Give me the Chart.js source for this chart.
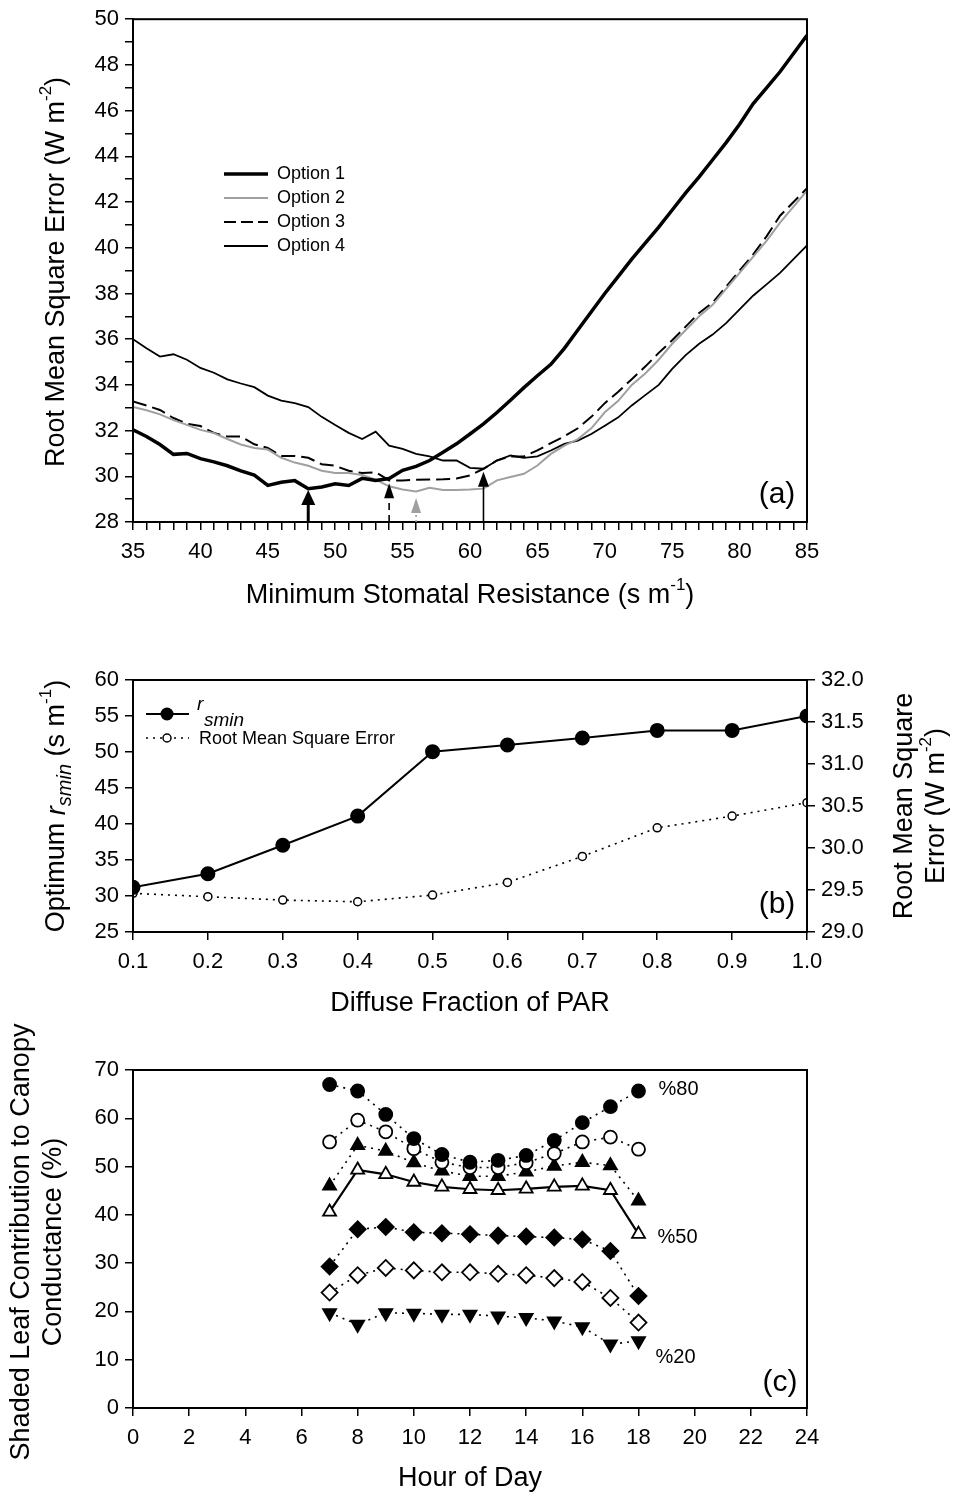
<!DOCTYPE html>
<html>
<head>
<meta charset="utf-8">
<script src="https://cdn.jsdelivr.net/npm/chart.js@4.4.1/dist/chart.umd.min.js"></script>
<style>
  html, body { margin: 0; padding: 0; background: #fff; }
  #page { position: relative; width: 964px; height: 1498px; }
  .panel { position: absolute; left: 0; width: 964px; }
</style>
</head>
<body>
<div id="page">
  <div class="panel" style="top:0;height:620px"><canvas id="chartA"></canvas></div>
  <div class="panel" style="top:640px;height:380px"><canvas id="chartB"></canvas></div>
  <div class="panel" style="top:1020px;height:478px"><canvas id="chartC"></canvas></div>
</div>
<script>
// ---- panel (a): RMSE vs minimum stomatal resistance
const aX = [35, 36, 37, 38, 39, 40, 41, 42, 43, 44, 45, 46, 47, 48, 49, 50, 51, 52, 53, 54,
  55, 56, 57, 58, 59, 60, 61, 62, 63, 64, 65, 66, 67, 68, 69, 70, 71, 72, 73, 74,
  75, 76, 77, 78, 79, 80, 81, 82, 83, 84, 85];
const opt1 = [32.03, 31.74, 31.39, 30.96, 31.0, 30.77, 30.63, 30.46, 30.24, 30.05,
  29.6, 29.74, 29.81, 29.46, 29.53, 29.67, 29.6, 29.91, 29.82, 29.9,
  30.26, 30.43, 30.69, 31.05, 31.42, 31.85, 32.29, 32.79, 33.33, 33.88,
  34.4, 34.9, 35.6, 36.4, 37.2, 38.0, 38.75, 39.5, 40.2, 40.9,
  41.65, 42.4, 43.1, 43.85, 44.6, 45.4, 46.3, 47.0, 47.7, 48.5, 49.3];
const opt2 = [33.03, 32.89, 32.71, 32.46, 32.25, 32.03, 31.89, 31.63, 31.39, 31.24,
  31.17, 30.81, 30.6, 30.46, 30.24, 30.14, 30.14, 30.06, 29.85, 29.56,
  29.42, 29.34, 29.5, 29.4, 29.4, 29.42, 29.46, 29.82, 29.97, 30.11,
  30.47, 30.98, 31.34, 31.63, 32.1, 32.8, 33.3, 34.0, 34.5, 35.1,
  35.8, 36.4, 37.0, 37.5, 38.2, 38.9, 39.6, 40.3, 41.1, 41.8, 42.5];
const opt3 = [33.27, 33.1, 32.9, 32.55, 32.3, 32.2, 31.9, 31.74, 31.74, 31.4,
  31.24, 30.89, 30.89, 30.81, 30.53, 30.46, 30.24, 30.14, 30.18, 29.82,
  29.82, 29.85, 29.86, 29.87, 29.9, 30.04, 30.33, 30.69, 30.87, 30.87,
  31.13, 31.45, 31.75, 32.1, 32.6, 33.2, 33.7, 34.25, 34.8, 35.4,
  35.95, 36.55, 37.15, 37.6, 38.3, 39.0, 39.7, 40.5, 41.4, 42.0, 42.6];
const opt4 = [36.0, 35.6, 35.24, 35.34, 35.1, 34.74, 34.53, 34.24, 34.06, 33.9,
  33.53, 33.31, 33.2, 33.03, 32.6, 32.24, 31.9, 31.63, 31.95, 31.34,
  31.2, 30.98, 30.87, 30.69, 30.69, 30.37, 30.33, 30.69, 30.91, 30.81,
  30.87, 31.13, 31.42, 31.56, 31.85, 32.21, 32.58, 33.1, 33.55, 34.0,
  34.7, 35.3, 35.8, 36.2, 36.7, 37.3, 37.9, 38.4, 38.9, 39.5, 40.1];
const optNames = ["Option 1", "Option 2", "Option 3", "Option 4"];
// arrows marking each option's minimum
const arrowX = [48, 54, 56, 61];
const arrowTip = [29.4, 29.7, 29.05, 30.2];

// ---- panel (b): optimum rsmin vs diffuse fraction
const bFrac = [0.1, 0.2, 0.3, 0.4, 0.5, 0.6, 0.7, 0.8, 0.9, 1.0];
const bRsmin = [31.2, 33.1, 37.05, 41.1, 50.05, 50.97, 51.94, 53.0, 53.0, 55.0];
const bRmse = [29.46, 29.42, 29.38, 29.36, 29.44, 29.59, 29.9, 30.24, 30.38, 30.54];

// ---- panel (c): shaded leaf contribution by hour
const cHour = [7, 8, 9, 10, 11, 12, 13, 14, 15, 16, 17, 18];
const c80 = [67.0, 65.65, 60.8, 55.8, 52.5, 50.9, 51.3, 52.3, 55.4, 59.1, 62.4, 65.65];
const c70 = [55.1, 59.6, 57.2, 53.7, 50.9, 49.8, 49.8, 50.8, 52.7, 55.1, 56.1, 53.6];
const c60 = [46.0, 54.4, 53.2, 50.8, 49.1, 48.0, 48.0, 48.9, 50.1, 50.9, 50.2, 42.9];
const c50 = [40.6, 49.3, 48.4, 46.8, 45.8, 45.3, 45.1, 45.4, 45.8, 46.0, 45.1, 36.0];
const c40 = [29.3, 37.0, 37.5, 36.4, 36.2, 36.0, 35.7, 35.5, 35.3, 34.9, 32.5, 23.2];
const c30 = [23.9, 27.5, 29.0, 28.5, 28.1, 28.1, 27.8, 27.5, 26.9, 26.1, 22.8, 17.7];
const c20 = [19.7, 17.3, 19.7, 19.6, 19.4, 19.4, 19.0, 18.7, 18.0, 16.8, 13.2, 13.9];
const cTags = ["%80", "%50", "%20"];

const FAM = '"Liberation Sans", Arial, Helvetica, sans-serif';
const f = (s, it) => (it ? "italic " : "") + s + "px " + FAM;
const pts = (xs, ys) => xs.map((x, i) => ({ x, y: ys[i] }));
const TICK = 22, TITLE = 27, SUP = 17;

// draw a run of text pieces (for superscripts / subscripts) centred on cx,cy
function drawRich(ctx, parts, cx, cy, rot) {
  ctx.save();
  ctx.translate(cx, cy);
  ctx.rotate(rot || 0);
  ctx.fillStyle = "#000";
  ctx.textAlign = "left";
  ctx.textBaseline = "middle";
  let total = 0;
  parts.forEach(p => { ctx.font = p.font; p.w = ctx.measureText(p.t).width; total += p.w; });
  let x = -total / 2;
  parts.forEach(p => { ctx.font = p.font; ctx.fillText(p.t, x, p.dy || 0); x += p.w; });
  ctx.restore();
}

function frameBox(chart) {
  const { ctx, chartArea: a } = chart;
  ctx.save();
  ctx.strokeStyle = "#000";
  ctx.lineWidth = 2;
  ctx.strokeRect(a.left, a.top, a.right - a.left, a.bottom - a.top);
  ctx.restore();
}

function axisX(min, max, step, labelFn, h) {
  return {
    type: "linear", min, max,
    afterFit: s => { s.height = h; },
    border: { display: true, color: "#000", width: 2 },
    grid: { drawOnChartArea: false, drawTicks: true, tickLength: 8, color: "#000", lineWidth: 1.5 },
    ticks: { stepSize: step, autoSkip: false, maxRotation: 0, color: "#000", padding: 9,
      font: { size: TICK, family: FAM }, callback: labelFn }
  };
}
function axisY(min, max, step, labelFn, w, pos) {
  return {
    type: "linear", min, max, position: pos || "left",
    afterFit: s => { s.width = w; },
    border: { display: true, color: "#000", width: 2 },
    grid: { drawOnChartArea: false, drawTicks: true, tickLength: 8, color: "#000", lineWidth: 1.5 },
    ticks: { stepSize: step, autoSkip: false, color: "#000", padding: 6,
      font: { size: TICK, family: FAM }, callback: labelFn }
  };
}
const baseOpts = {
  responsive: true, maintainAspectRatio: false, animation: false,
  plugins: { legend: { display: false }, tooltip: { enabled: false } }
};

// ---------- chart (a)
const aStyles = [
  { color: "#000", width: 3.5, dash: [] },
  { color: "#a0a0a0", width: 2, dash: [] },
  { color: "#000", width: 2, dash: [14, 6] },
  { color: "#000", width: 1.8, dash: [] }
];
const arrowStyles = [
  { color: "#000", width: 3, dash: [], head: 7 },
  { color: "#000", width: 1.6, dash: [7, 5], head: 5 },
  { color: "#a0a0a0", width: 1.6, dash: [2, 3], head: 5 },
  { color: "#000", width: 1.6, dash: [], head: 5.5 }
];

new Chart(document.getElementById("chartA"), {
  type: "line",
  data: {
    datasets: [opt1, opt2, opt3, opt4].map((d, i) => ({
      label: optNames[i], data: pts(aX, d),
      borderColor: aStyles[i].color, borderWidth: aStyles[i].width, borderDash: aStyles[i].dash,
      pointRadius: 0, tension: 0, fill: false
    }))
  },
  options: {
    ...baseOpts,
    layout: { padding: { left: 0, top: 16, right: 157, bottom: 0 } },
    scales: {
      x: axisX(35, 85, 1, v => (v % 5 === 0 ? v : ""), 98),
      y: axisY(28, 50, 1, v => (v % 2 === 0 ? v : ""), 133)
    }
  },
  plugins: [{
    id: "decorA",
    afterDraw(chart) {
      const { ctx, chartArea: a, scales: { x, y } } = chart;
      frameBox(chart);
      // arrows
      arrowX.forEach((v, i) => {
        const st = arrowStyles[i];
        const px = x.getPixelForValue(v), tip = y.getPixelForValue(arrowTip[i]);
        const hl = 15;
        ctx.save();
        ctx.strokeStyle = st.color; ctx.fillStyle = st.color;
        ctx.lineWidth = st.width; ctx.setLineDash(st.dash);
        ctx.beginPath(); ctx.moveTo(px, a.bottom); ctx.lineTo(px, tip + hl - 2); ctx.stroke();
        ctx.setLineDash([]);
        ctx.beginPath(); ctx.moveTo(px, tip); ctx.lineTo(px - st.head, tip + hl); ctx.lineTo(px + st.head, tip + hl);
        ctx.closePath(); ctx.fill();
        ctx.restore();
      });
      // legend
      optNames.forEach((n, i) => {
        const ly = 174 + i * 24;
        ctx.save();
        ctx.strokeStyle = aStyles[i].color; ctx.lineWidth = aStyles[i].width;
        ctx.setLineDash(aStyles[i].dash.length ? [12, 5] : []);
        ctx.beginPath(); ctx.moveTo(224, ly); ctx.lineTo(268, ly); ctx.stroke();
        ctx.fillStyle = "#000"; ctx.font = f(18); ctx.textBaseline = "middle"; ctx.textAlign = "left";
        ctx.fillText(n, 277, ly);
        ctx.restore();
      });
      drawRich(ctx, [{ t: "(a)", font: f(30) }], a.right - 30, a.bottom - 27);
      drawRich(ctx, [
        { t: "Root Mean Square Error (W m", font: f(TITLE) },
        { t: "-2", font: f(SUP), dy: -11 },
        { t: ")", font: f(TITLE) }
      ], 57, 272, -Math.PI / 2);
      drawRich(ctx, [
        { t: "Minimum Stomatal Resistance (s m", font: f(TITLE) },
        { t: "-1", font: f(SUP), dy: -11 },
        { t: ")", font: f(TITLE) }
      ], (a.left + a.right) / 2, 596);
    }
  }]
});

// ---------- chart (b)
new Chart(document.getElementById("chartB"), {
  type: "line",
  data: {
    datasets: [
      { label: "rsmin", data: pts(bFrac, bRsmin), yAxisID: "y",
        borderColor: "#000", borderWidth: 2, pointRadius: 6.5, pointBackgroundColor: "#000",
        pointBorderColor: "#000", tension: 0 },
      { label: "Root Mean Square Error", data: pts(bFrac, bRmse), yAxisID: "y2",
        borderColor: "#000", borderWidth: 1.6, borderDash: [2, 5], pointRadius: 4,
        pointBackgroundColor: "#fff", pointBorderColor: "#000", pointBorderWidth: 1.5, tension: 0 }
    ]
  },
  options: {
    ...baseOpts,
    layout: { padding: { left: 0, top: 40, right: 67, bottom: 0 } },
    scales: {
      x: axisX(0.1, 1.0, 0.1, v => v.toFixed(1), 88),
      y: axisY(25, 60, 5, v => v, 133),
      y2: axisY(29, 32, 0.5, v => v.toFixed(1), 90, "right")
    }
  },
  plugins: [{
    id: "decorB",
    afterDraw(chart) {
      const { ctx, chartArea: a } = chart;
      const top = 640;
      frameBox(chart);
      // legend
      ctx.save();
      ctx.strokeStyle = "#000"; ctx.fillStyle = "#000";
      ctx.lineWidth = 2;
      ctx.beginPath(); ctx.moveTo(146, 714 - top); ctx.lineTo(189, 714 - top); ctx.stroke();
      ctx.beginPath(); ctx.arc(167, 714 - top, 6.5, 0, Math.PI * 2); ctx.fill();
      ctx.lineWidth = 1.6; ctx.setLineDash([2, 5]);
      ctx.beginPath(); ctx.moveTo(146, 738 - top); ctx.lineTo(189, 738 - top); ctx.stroke();
      ctx.setLineDash([]); ctx.fillStyle = "#fff"; ctx.lineWidth = 1.5;
      ctx.beginPath(); ctx.arc(167, 738 - top, 4, 0, Math.PI * 2); ctx.fill(); ctx.stroke();
      ctx.fillStyle = "#000"; ctx.textBaseline = "middle"; ctx.textAlign = "left";
      ctx.font = f(19, true); ctx.fillText("r", 197, 705 - top);
      ctx.font = f(19, true); ctx.fillText("smin", 204, 721 - top);
      ctx.font = f(18); ctx.fillText("Root Mean Square Error", 199, 739 - top);
      ctx.restore();
      drawRich(ctx, [{ t: "(b)", font: f(30) }], a.right - 30, a.bottom - 27);
      drawRich(ctx, [
        { t: "Optimum ", font: f(TITLE) },
        { t: "r", font: f(TITLE, true) },
        { t: "smin", font: f(20, true), dy: 8 },
        { t: " (s m", font: f(TITLE) },
        { t: "-1", font: f(SUP), dy: -11 },
        { t: ")", font: f(TITLE) }
      ], 57, 806 - top, -Math.PI / 2);
      drawRich(ctx, [{ t: "Root Mean Square", font: f(TITLE) }], 905, 806 - top, -Math.PI / 2);
      drawRich(ctx, [
        { t: "Error (W m", font: f(TITLE) },
        { t: "-2", font: f(SUP), dy: -11 },
        { t: ")", font: f(TITLE) }
      ], 937, 806 - top, -Math.PI / 2);
      drawRich(ctx, [{ t: "Diffuse Fraction of PAR", font: f(TITLE) }], (a.left + a.right) / 2, 1004 - top);
    }
  }]
});

// ---------- chart (c)
const cSeries = [c80, c70, c60, c50, c40, c30, c20];
const cMarks = [
  { style: "circle", fill: "#000", r: 6.5, rot: 0 },
  { style: "circle", fill: "#fff", r: 6.5, rot: 0 },
  { style: "triangle", fill: "#000", r: 7.5, rot: 0 },
  { style: "triangle", fill: "#fff", r: 7.5, rot: 0 },
  { style: "rectRot", fill: "#000", r: 8, rot: 0 },
  { style: "rectRot", fill: "#fff", r: 8, rot: 0 },
  { style: "triangle", fill: "#000", r: 7.5, rot: 180 }
];
new Chart(document.getElementById("chartC"), {
  type: "line",
  data: {
    datasets: cSeries.map((d, i) => ({
      data: pts(cHour, d),
      borderColor: "#000",
      borderWidth: i === 3 ? 2.2 : 1.6,
      borderDash: i === 3 ? [] : [2, 5],
      pointStyle: cMarks[i].style, pointRadius: cMarks[i].r, pointRotation: cMarks[i].rot,
      pointBackgroundColor: cMarks[i].fill, pointBorderColor: "#000", pointBorderWidth: 1.8,
      tension: 0
    }))
  },
  options: {
    ...baseOpts,
    layout: { padding: { left: 0, top: 50, right: 157, bottom: 0 } },
    scales: {
      x: axisX(0, 24, 2, v => v, 90),
      y: axisY(0, 70, 10, v => v, 133)
    }
  },
  plugins: [{
    id: "decorC",
    afterDraw(chart) {
      const { ctx, chartArea: a, scales: { x, y } } = chart;
      const top = 1020;
      frameBox(chart);
      const last = cHour.length - 1;
      const tagSeries = [c80, c50, c20];
      const tagOff = [[20, -2], [19, 3], [17, 17]];
      ctx.save();
      ctx.fillStyle = "#000"; ctx.font = f(20); ctx.textBaseline = "middle"; ctx.textAlign = "left";
      cTags.forEach((t, i) => {
        const px = x.getPixelForValue(cHour[last]), py = y.getPixelForValue(tagSeries[i][last]);
        ctx.fillText(t, px + tagOff[i][0], py + tagOff[i][1]);
      });
      ctx.restore();
      drawRich(ctx, [{ t: "(c)", font: f(30) }], a.right - 27, a.bottom - 25);
      drawRich(ctx, [{ t: "Shaded Leaf Contribution to Canopy", font: f(TITLE) }], 22, 1242 - top, -Math.PI / 2);
      drawRich(ctx, [{ t: "Conductance (%)", font: f(TITLE) }], 54, 1242 - top, -Math.PI / 2);
      drawRich(ctx, [{ t: "Hour of Day", font: f(TITLE) }], (a.left + a.right) / 2, 1479 - top);
    }
  }]
});
</script>
</body>
</html>
